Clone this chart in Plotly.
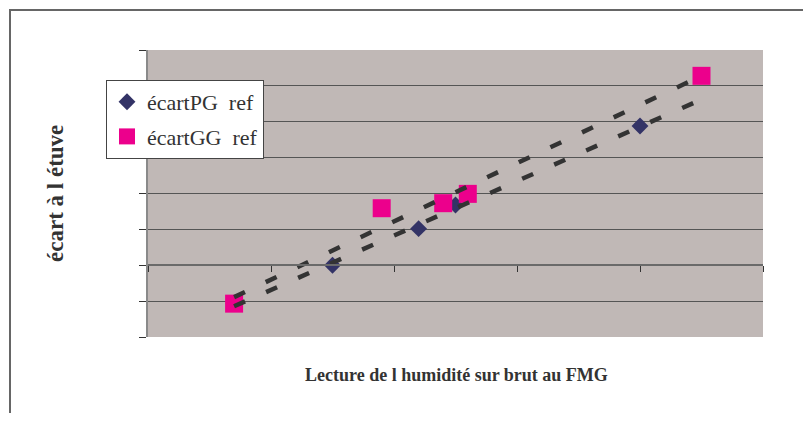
import numpy as np
import plotly.graph_objects as go

# ---- data (arbitrary units) ----
pg_x = [0.70, 1.50, 2.20, 2.50, 4.00]
pg_y = [-1.07, 0.00, 1.02, 1.68, 3.88]
gg_x = [0.70, 1.90, 2.40, 2.60, 4.50]
gg_y = [-1.07, 1.59, 1.73, 1.99, 5.28]
pg_name = "écartPG\u00a0\u00a0ref"
gg_name = "écartGG\u00a0\u00a0ref"
x_title = "Lecture de l humidité sur brut au FMG"
y_title = "écart à l étuve"

x_range = [0, 5]
y_range = [-2, 6]

SERIF = "Liberation Serif, Times New Roman, serif"
NAVY = "#333366"
MAGENTA = "#EC008C"
BG = "#C0B8B6"

fig = go.Figure()

fig.add_trace(go.Scatter(
    x=pg_x, y=pg_y, mode="markers", name=pg_name, legendgroup="pg",
    marker=dict(symbol="diamond", size=13, color=NAVY, line=dict(width=0)),
))
fig.add_trace(go.Scatter(
    x=gg_x, y=gg_y, mode="markers", name=gg_name, legendgroup="gg",
    marker=dict(symbol="square", size=18, color=MAGENTA, line=dict(width=0)),
))

# linear trendlines (least squares), spanning the data extent
x_lo = min(min(pg_x), min(gg_x))
x_hi = max(max(pg_x), max(gg_x))
for xs, ys in ((pg_x, pg_y), (gg_x, gg_y)):
    k, b = np.polyfit(xs, ys, 1)
    tx = np.array([x_lo, x_hi])
    fig.add_trace(go.Scatter(
        x=tx, y=k * tx + b, mode="lines", showlegend=False, hoverinfo="skip",
        line=dict(color="#333333", width=4.5, dash="12px,23px"),
    ))

# page has an 8px body margin; figure coordinates = page coordinates - 8
OFF = 8
W, H = 811 - 2 * OFF, 421 - 2 * OFF
L, T = 148 - OFF, 50 - OFF
R = W - (763 - OFF)
B = H - (337 - OFF)
pw = W - L - R
ph = H - T - B


def px(xp):
    return (xp - OFF - L) / pw


def py(yp):
    return (H - B - (yp - OFF)) / ph


fig.update_layout(
    width=W, height=H,
    margin=dict(l=L, r=R, t=T, b=B, pad=0),
    paper_bgcolor="white",
    plot_bgcolor=BG,
    showlegend=True,
    legend=dict(
        x=px(106), y=py(80), xanchor="left", yanchor="top",
        bgcolor="white", bordercolor="#444444", borderwidth=1,
        font=dict(family=SERIF, size=22, color="#333333"),
        traceorder="grouped", tracegroupgap=3,
    ),
    xaxis=dict(
        range=x_range, dtick=1, tick0=0,
        anchor="free", position=(0 - y_range[0]) / (y_range[1] - y_range[0]),
        showgrid=False, zeroline=False,
        showline=True, linecolor="#6a6a6a", linewidth=1.5,
        ticks="outside", ticklen=6, tickcolor="#333333", tickwidth=1,
        showticklabels=False,
    ),
    yaxis=dict(
        range=y_range, dtick=1, tick0=0,
        showgrid=True, gridcolor="#555555", gridwidth=1,
        zeroline=False,
        showline=True, linecolor="#8a8a8a", linewidth=1.5,
        ticks="outside", ticklen=7, tickcolor="#333333", tickwidth=1,
        showticklabels=False,
    ),
    shapes=[dict(
        type="rect", xref="paper", yref="paper",
        x0=px(10), x1=1.3, y0=-0.6, y1=py(10),
        line=dict(color="#666666", width=2), fillcolor="rgba(0,0,0,0)", layer="above",
    )],
    annotations=[
        dict(text=y_title, xref="paper", yref="paper",
             x=px(55), y=py(194), textangle=-90, showarrow=False,
             xanchor="center", yanchor="middle",
             font=dict(family=SERIF, size=23, color="#333333", weight="bold")),
        dict(text=x_title, xref="paper", yref="paper",
             x=px(456), y=py(375), showarrow=False,
             xanchor="center", yanchor="middle",
             font=dict(family=SERIF, size=18, color="#333333", weight="bold")),
    ],
)

fig.write_html("out.html")
